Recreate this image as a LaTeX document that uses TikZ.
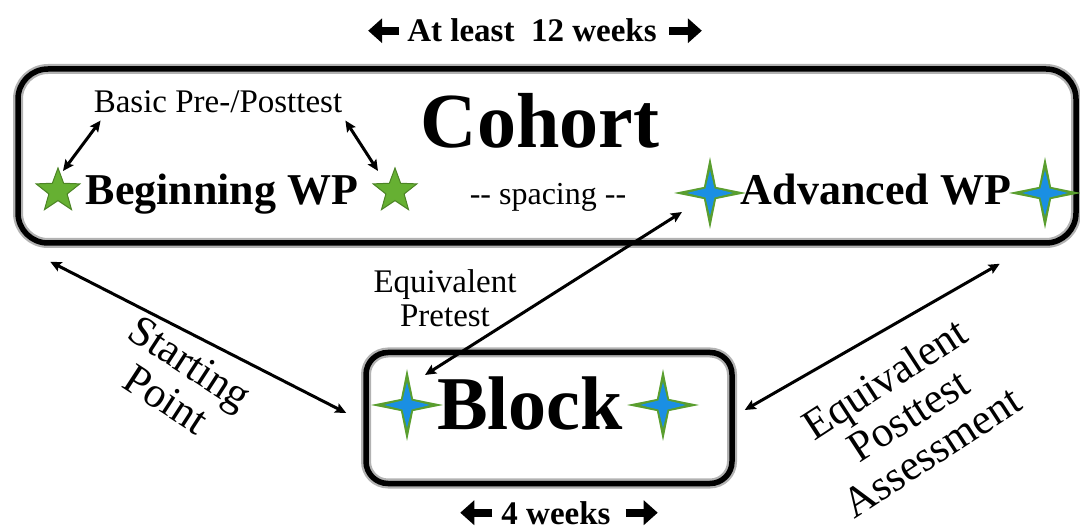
\documentclass[tikz,border=0pt]{standalone}
\usepackage{fontspec}
\setmainfont{Liberation Serif}
\usepackage{tikz}
\usetikzlibrary{positioning,arrows.meta,shapes.geometric,calc}

\definecolor{stargreen}{HTML}{66B032}
\definecolor{sparkgreen}{HTML}{5A9E2F}
\definecolor{sparkblue}{HTML}{1A8FE3}

\newcommand{\fsz}[1]{\fontsize{#1}{1.15\dimexpr#1pt\relax}\selectfont}

\begin{document}
\begin{tikzpicture}[x=1pt, y=-1pt,
    box/.style={draw, line width=5.5pt, preaction={draw=black!30, line width=10pt}},
    bigtxt/.style={font=\bfseries\fsz{78}, inner sep=0pt, anchor=base},
    wptxt/.style={font=\bfseries\fsz{44}, inner sep=0pt, anchor=base},
    plain/.style={font=\fsz{33}, inner sep=0pt},
    side/.style={font=\fsz{43}, align=center, inner sep=0pt},
    span/.style={font=\bfseries\fsz{33}, inner sep=0pt, anchor=base},
    star5/.style={star, star points=5, star point ratio=2.4, minimum size=46pt, inner sep=0pt,
      fill=stargreen, draw=stargreen!75!black, line width=1pt},
    sparkle/.style={star, star points=4, star point ratio=4.2, minimum size=72pt, inner sep=0pt,
      fill=sparkgreen},
    sparkin/.style={star, star points=4, star point ratio=3.6, minimum size=46pt, inner sep=0pt,
      fill=sparkblue},
    dbl/.style={{Stealth[length=11pt, width=10pt, inset=2pt]}-{Stealth[length=11pt, width=10pt, inset=2pt]}, line width=3pt},
    fat/.style={line width=8pt, -{Triangle[length=14pt, width=24pt]}}]
    \useasboundingbox (0,0) rectangle (1080,529);

    % the two boxes
    \node[box, rounded corners=30pt, minimum width=1058pt, minimum height=174pt] (cohort) at (547,156) {};
    \node[box, rounded corners=22pt, minimum width=366pt, minimum height=131pt] (block) at (549,418) {};

    % cohort contents
    \node[bigtxt] (cohorttxt) at (540,148) {Cohort};
    \node[plain, anchor=base] (basic) at (218,113) {Basic Pre-/Posttest};
    \node[wptxt] (begin) at (222,205) {Beginning WP};
    \node[star5] (star1) at (58,191) {};
    \node[star5] (star2) at (395,191) {};
    \node[plain, anchor=base, font=\fsz{32}] (spacing) at (548,205) {-{}- spacing -{}-};
    \node[wptxt] (adv) at (876,205) {Advanced WP};
    \node[sparkle] (adv1) at (710,193) {};
    \node[sparkin] at (adv1) {};
    \node[sparkle] (adv2) at (1045,193) {};
    \node[sparkin] at (adv2) {};

    % block contents
    \node[bigtxt, font=\bfseries\fsz{76}] (blocktxt) at (530,430) {Block};
    \node[sparkle] (blk1) at (407,405) {};
    \node[sparkin] at (blk1) {};
    \node[sparkle] (blk2) at (663,405) {};
    \node[sparkin] at (blk2) {};

    % durations
    \node[span] (weeks12) at (532,42) {At least\ \ 12 weeks};
    \draw[fat] ([xshift=-8pt]weeks12.west) -- ([xshift=-39pt]weeks12.west);
    \draw[fat] ([xshift=12pt]weeks12.east) -- ([xshift=45pt]weeks12.east);
    \node[span] (weeks4) at (556,524) {4 weeks};
    \draw[fat] ([xshift=-9pt]weeks4.west) -- ([xshift=-41pt]weeks4.west);
    \draw[fat] ([xshift=15pt]weeks4.east) -- ([xshift=47pt]weeks4.east);

    % connectors
    \draw[dbl] ($(star1)+(5,-20)$) -- ($(basic.south west)+(7,7)$);
    \draw[dbl] ($(basic.south east)+(3,7)$) -- ($(star2)+(-17,-20)$);
    \draw[dbl] ($(cohort.south west)+(35,16)$) -- ($(block.west)+(-17,-5)$);
    \draw[dbl] ($(block.east)+(10,-8)$) -- ($(cohort.south east)+(-79,18)$);
    \draw[dbl] ($(blk1)+(18,-30)$) -- ($(adv1)+(-28,19)$);

    % labels
    \node[plain, align=center] (pretest) at (445,298) {Equivalent\\[-4pt]Pretest};
    \node[side, rotate=-33] (start) at (178,381) {Starting\\[-6pt]Point};
    \node[side, rotate=33] (post) at (908,415) {Equivalent\\[-6pt]Posttest\\[-6pt]Assessment};
\end{tikzpicture}
\end{document}
